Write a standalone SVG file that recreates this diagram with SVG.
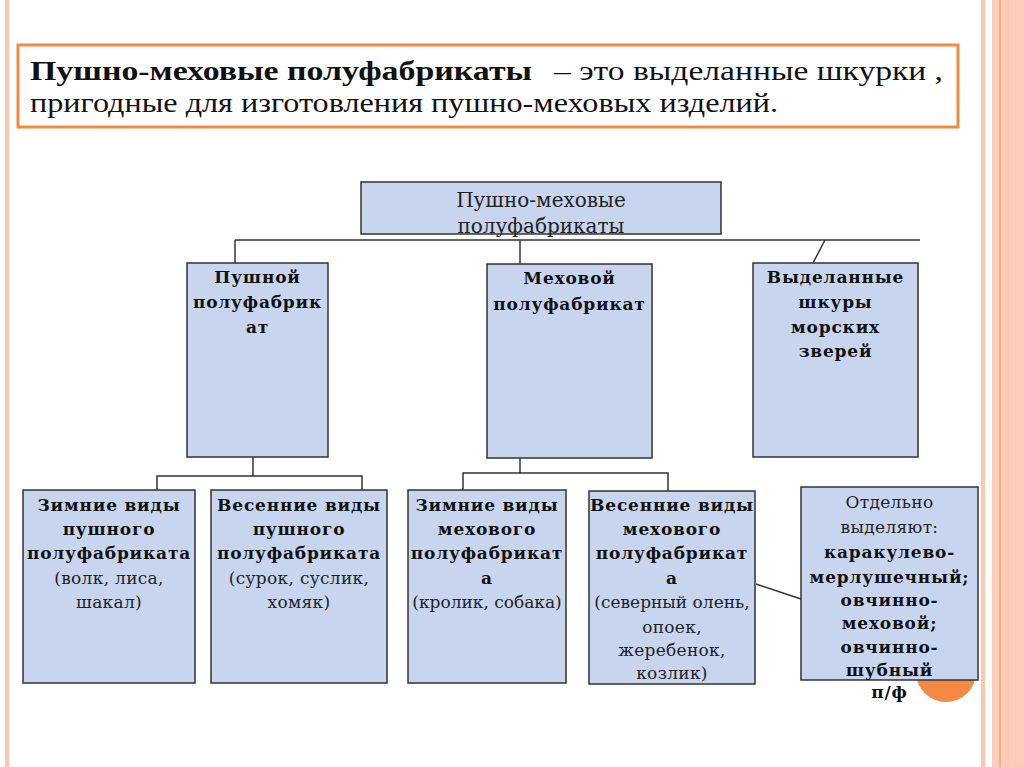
<svg xmlns="http://www.w3.org/2000/svg" width="1024" height="767" viewBox="0 0 1024 767">
<style>
.node{fill:#c7d5ee;stroke:#333;stroke-width:1.5}
.conn{stroke:#333;stroke-width:1.5;fill:none}
.b{font-family:"DejaVu Serif","Liberation Serif",serif;font-weight:bold;font-size:17px;letter-spacing:0.8px;fill:#111;text-anchor:middle}
.r{font-family:"DejaVu Serif","Liberation Serif",serif;font-size:17px;letter-spacing:0.3px;fill:#222;text-anchor:middle}
.h{font-family:"DejaVu Serif","Liberation Serif",serif;font-size:20px;fill:#222;text-anchor:middle}
.t{font-family:"Liberation Serif",serif;font-size:27px;fill:#111}
</style>
<rect width="1024" height="767" fill="#fff"/>
<g id="decor">
<rect x="5" y="0" width="4" height="767" fill="#fcc8b4"/>
<rect x="981" y="0" width="4" height="767" fill="#fcc8b4"/>
<rect x="992" y="0" width="32" height="767" fill="#fdcdb9"/>
<line x1="1000" y1="0" x2="1000" y2="767" stroke="#f0a277" stroke-width="1.5"/>
<line x1="1008" y1="0" x2="1008" y2="767" stroke="#fcc0a8" stroke-width="1"/>
<circle cx="946" cy="672" r="30" fill="#f68a45"/>
</g>
<g id="title">
<rect x="18" y="45" width="940" height="82" fill="#fff" stroke="#f28a44" stroke-width="3"/>
<text class="t" x="30" y="80" font-weight="bold" textLength="502" lengthAdjust="spacingAndGlyphs">Пушно-меховые полуфабрикаты</text>
<text class="t" x="554" y="80" textLength="389" lengthAdjust="spacingAndGlyphs">– это выделанные шкурки ,</text>
<text class="t" x="30" y="112" textLength="748" lengthAdjust="spacingAndGlyphs">пригодные для изготовления пушно-меховых изделий.</text>
</g>
<g id="connectors">
<line class="conn" x1="235" y1="240" x2="920" y2="240"/>
<line class="conn" x1="235" y1="240" x2="235" y2="263"/>
<line class="conn" x1="520" y1="240" x2="520" y2="264"/>
<line class="conn" x1="825" y1="240" x2="813" y2="263"/>
<polyline class="conn" points="253,457 253,476"/>
<polyline class="conn" points="157,490 157,476 362,476 362,490"/>
<polyline class="conn" points="520,458 520,473"/>
<polyline class="conn" points="463,490 463,473 668,473 668,493"/>
<line class="conn" x1="756" y1="584" x2="801" y2="599"/>
</g>
<g id="n-root">
<rect class="node" x="361" y="182" width="360" height="52"/>
<text class="h" x="541" y="207">Пушно-меховые</text>
<text class="h" x="541" y="233">полуфабрикаты</text>
</g>
<g id="n-fur">
<rect class="node" x="187" y="263" width="141" height="194"/>
<text class="b" x="257.5" y="283">Пушной</text>
<text class="b" x="257.5" y="308">полуфабрик</text>
<text class="b" x="257.5" y="333">ат</text>
</g>
<g id="n-pelt">
<rect class="node" x="487" y="264" width="165" height="194"/>
<text class="b" x="569.5" y="284">Меховой</text>
<text class="b" x="569.5" y="310">полуфабрикат</text>
</g>
<g id="n-sea">
<rect class="node" x="753" y="263" width="165" height="194"/>
<text class="b" x="835.5" y="283">Выделанные</text>
<text class="b" x="835.5" y="308">шкуры</text>
<text class="b" x="835.5" y="333">морских</text>
<text class="b" x="835.5" y="357">зверей</text>
</g>
<g id="n-fur-winter">
<rect class="node" x="23" y="490" width="172" height="193"/>
<text class="b" x="109" y="511">Зимние виды</text>
<text class="b" x="109" y="535">пушного</text>
<text class="b" x="109" y="559">полуфабриката</text>
<text class="r" x="109" y="584">(волк, лиса,</text>
<text class="r" x="109" y="608">шакал)</text>
</g>
<g id="n-fur-spring">
<rect class="node" x="211" y="490" width="176" height="193"/>
<text class="b" x="299" y="511">Весенние виды</text>
<text class="b" x="299" y="535">пушного</text>
<text class="b" x="299" y="559">полуфабриката</text>
<text class="r" x="299" y="584">(сурок, суслик,</text>
<text class="r" x="299" y="608">хомяк)</text>
</g>
<g id="n-pelt-winter">
<rect class="node" x="408" y="490" width="158" height="193"/>
<text class="b" x="487" y="511">Зимние виды</text>
<text class="b" x="487" y="535">мехового</text>
<text class="b" x="487" y="559">полуфабрикат</text>
<text class="b" x="487" y="584">а</text>
<text class="r" x="487" y="608" style="letter-spacing:0">(кролик, собака)</text>
</g>
<g id="n-pelt-spring">
<rect class="node" x="589" y="491" width="166" height="193"/>
<text class="b" x="672" y="511">Весенние виды</text>
<text class="b" x="672" y="535">мехового</text>
<text class="b" x="672" y="559">полуфабрикат</text>
<text class="b" x="672" y="584">а</text>
<text class="r" x="672" y="608" style="letter-spacing:0">(северный олень,</text>
<text class="r" x="672" y="633">опоек,</text>
<text class="r" x="672" y="656">жеребенок,</text>
<text class="r" x="672" y="679">козлик)</text>
</g>
<g id="n-special">
<rect class="node" x="801" y="487" width="177" height="193"/>
<text class="r" x="889.5" y="508">Отдельно</text>
<text class="r" x="889.5" y="533">выделяют:</text>
<text class="b" x="889.5" y="558">каракулево-</text>
<text class="b" x="889.5" y="583">мерлушечный;</text>
<text class="b" x="889.5" y="606">овчинно-</text>
<text class="b" x="889.5" y="629">меховой;</text>
<text class="b" x="889.5" y="653">овчинно-</text>
<text class="b" x="889.5" y="676">шубный</text>
<text class="b" x="889.5" y="698">п/ф</text>
</g>
</svg>
